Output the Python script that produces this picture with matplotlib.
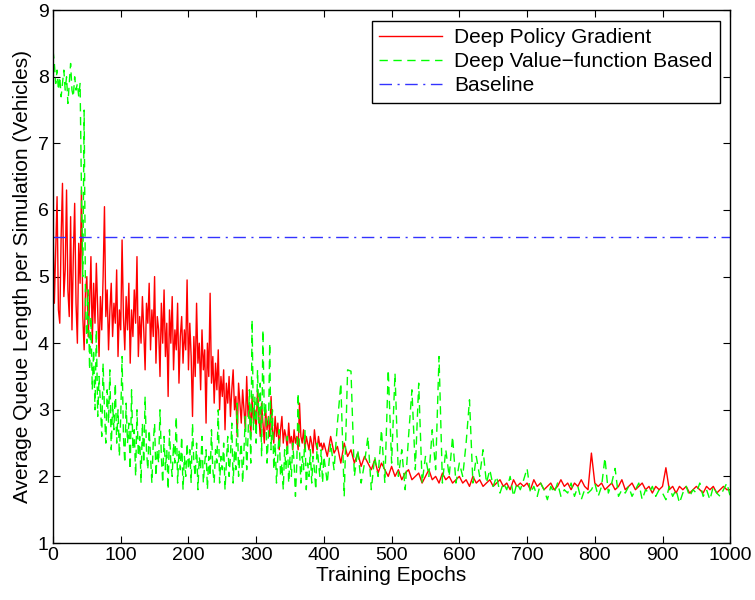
import numpy as np
import matplotlib
matplotlib.use('Agg')
import matplotlib.pyplot as plt

plt.rcParams['font.family'] = ['Liberation Sans', 'DejaVu Sans']

# epochs: every 2 up to 400 (noisy part), then every 5
epochs = np.concatenate([np.arange(0, 401, 2), np.arange(405, 1001, 5)])

policy_gradient = [
    # 0-398, step 2
    5.8, 4.6, 5.4, 6.2, 4.5, 4.3, 5.6, 6.4, 4.7, 5.1,
    6.3, 4.8, 4.4, 5.9, 4.2, 5.3, 6.1, 4.6, 4.0, 5.5,
    4.9, 6.3, 4.4, 3.9, 4.8, 5.0, 4.1, 4.6, 5.3, 4.0,
    4.9, 4.3, 5.2, 4.5, 3.8, 4.7, 4.2, 5.0, 6.05, 4.4,
    4.8, 3.9, 4.5, 4.9, 4.1, 4.6, 4.3, 5.1, 3.8, 4.5,
    4.2, 5.55, 4.4, 3.9, 4.7, 4.2, 4.9, 3.7, 4.5, 4.1,
    4.8, 4.3, 5.3, 3.8, 4.4, 4.0, 4.7, 4.2, 3.6, 4.6,
    4.3, 4.9, 3.9, 4.5, 4.1, 5.0, 3.7, 4.4, 4.2, 3.5,
    4.6, 4.0, 4.8, 3.8, 4.3, 3.2, 4.5, 4.0, 4.7, 3.6,
    4.2, 3.9, 4.6, 3.4, 4.1, 4.4, 3.7, 4.2, 3.9, 4.95,
    3.6, 4.3, 3.8, 2.9, 4.1, 3.5, 4.6, 3.7, 4.0, 3.3,
    4.2, 3.6, 3.9, 2.8, 4.0, 3.5, 4.75, 3.4, 3.8, 3.1,
    3.7, 3.3, 3.9, 3.0, 3.5, 3.2, 3.6, 2.7, 3.4, 3.1,
    3.5, 2.9, 3.3, 3.6, 3.0, 3.2, 2.6, 3.4, 3.1, 2.8,
    3.3, 3.0, 2.7, 3.5, 2.9, 3.1, 2.6, 3.2, 2.8, 3.0,
    2.7, 3.3, 2.9, 2.6, 3.1, 2.8, 2.5, 3.0, 2.7, 2.9,
    2.6, 3.2, 2.7, 2.5, 2.9, 2.6, 2.8, 2.4, 2.7, 2.9,
    2.5, 2.7, 2.6, 2.4, 2.8, 2.5, 2.6, 2.4, 2.7, 2.5,
    2.6, 2.4, 3.1, 2.6, 2.5, 2.7, 2.4, 2.6, 2.5, 2.4,
    2.6, 2.5, 2.35, 2.7, 2.5, 2.4, 2.6, 2.45, 2.5, 2.4,
    2.5,
    # 405-1000, step 5
    2.3, 2.6, 2.35, 2.45, 2.2, 2.5, 2.3, 2.4, 2.2,
    2.35, 2.15, 2.3, 2.2, 2.1, 2.25, 2.05, 2.2, 2.1, 2.0,
    2.15, 2.0, 2.1, 1.95, 2.05, 2.1, 1.95, 2.0, 2.05, 1.9,
    2.0, 2.1, 1.95, 2.0, 1.9, 2.05, 1.95, 2.0, 1.9, 1.95,
    2.0, 1.9, 1.95, 1.85, 2.0, 1.9, 1.95, 1.85, 1.9, 1.95,
    1.85, 1.9, 1.95, 1.85, 1.9, 1.8, 1.95, 1.85, 1.9, 1.85,
    1.9, 1.8, 1.95, 1.85, 1.9, 1.8, 1.85, 1.9, 1.8, 1.85,
    1.95, 1.85, 1.9, 1.8, 1.9, 1.85, 1.95, 1.85, 1.8, 2.35,
    1.9, 1.85, 1.9, 1.8, 1.85, 1.9, 1.8, 1.85, 1.95, 1.8,
    1.85, 1.9, 1.8, 1.85, 1.9, 1.8, 1.85, 1.75, 1.85, 1.8,
    1.85, 2.13, 1.8, 1.85, 1.75, 1.85, 1.8, 1.85, 1.75, 1.8,
    1.85, 1.8, 1.75, 1.85, 1.8, 1.85, 1.75, 1.8, 1.85, 1.8,
    1.8,
]

value_based = [
    # 0-398, step 2
    8.4, 8.2, 7.9, 8.1, 7.8, 8.0, 7.7, 7.9, 8.1, 7.8,
    8.0, 7.6, 7.9, 8.2, 7.8, 7.7, 8.0, 7.8, 7.9, 7.7,
    7.9, 6.3, 5.0, 7.5, 4.6, 4.0, 4.8, 3.6, 4.4, 3.3,
    3.9, 3.0, 4.2, 2.9, 3.5, 3.1, 2.6, 3.7, 3.0, 2.5,
    3.3, 2.8, 3.6, 2.4, 3.1, 2.7, 3.4, 2.5, 3.0, 2.3,
    2.9, 3.8, 2.6, 2.2, 3.1, 2.5, 2.8, 2.1, 3.3, 2.4,
    2.7, 2.0, 3.0, 2.3, 2.6, 1.9, 2.8, 2.2, 3.2, 2.4,
    2.1, 2.7, 2.3, 1.9, 2.5, 2.8, 2.0, 2.4, 2.2, 3.0,
    2.3, 1.9, 2.6, 2.1, 2.4, 1.8, 2.7, 2.2, 2.0, 2.5,
    2.2, 2.9, 1.9, 2.4, 2.1, 2.6, 1.8, 2.3, 2.0, 2.5,
    2.1, 2.4, 1.9, 2.8, 2.2, 2.0, 2.5, 1.8, 2.3, 2.1,
    2.6, 1.9, 2.2, 2.4, 1.8, 2.3, 2.0, 2.7, 2.1, 1.9,
    2.4, 2.2, 3.0, 1.9, 2.3, 2.1, 2.5, 1.8, 2.2, 2.6,
    2.0, 2.3, 2.8, 1.9, 2.4, 2.1, 3.1, 2.0, 2.3, 2.5,
    1.9, 2.4, 2.9, 2.1, 2.6, 3.3, 2.2, 4.35, 2.7, 3.2,
    2.5, 3.6, 2.8, 3.4, 2.3, 4.2, 2.9, 3.1, 2.2, 2.6,
    4.0, 2.4, 3.0, 2.1, 2.5, 1.9, 2.3, 2.7, 2.0, 2.2,
    1.8, 2.4, 2.1, 2.6, 1.9, 2.3, 2.0, 2.5, 2.2, 1.7,
    2.2, 3.25, 2.4, 1.9, 2.3, 2.1, 2.7, 1.8, 2.2, 2.0,
    2.4, 1.9, 2.3, 2.1, 1.8, 2.5, 2.2, 2.0, 2.4, 1.9,
    2.3,
    # 405-1000, step 5
    1.9, 2.5, 2.1, 2.8, 3.4, 1.7, 3.6, 3.58, 2.0,
    2.4, 1.9, 2.2, 2.6, 1.8, 2.3, 2.0, 2.7, 1.9, 3.6,
    2.2, 3.55, 2.0, 2.4, 1.8, 2.6, 3.3, 2.1, 3.4, 1.9,
    2.3, 2.0, 2.7, 2.1, 3.8, 1.9, 2.4, 2.0, 2.6, 1.9,
    2.2, 2.0, 2.5, 3.15, 1.9, 2.3, 2.0, 2.4, 1.9, 2.1,
    1.85, 2.0, 1.75, 1.9, 1.8, 2.0, 1.7, 1.9, 1.8, 1.95,
    2.12, 1.75, 1.85, 1.7, 1.9, 1.8, 1.65, 1.85, 1.75, 1.9,
    1.7, 1.8, 1.75, 1.9, 1.7, 1.85, 1.65, 1.8, 1.75, 1.8,
    1.9, 1.7, 1.85, 2.28, 1.75, 1.9, 2.12, 1.7, 1.8, 1.75,
    1.85, 1.7, 1.8, 1.9, 1.65, 1.8, 1.75, 1.85, 1.7, 1.8,
    1.75, 1.65, 1.85, 1.7, 1.8, 1.6, 1.75, 1.85, 1.7, 1.8,
    1.75, 1.9, 1.7, 1.8, 1.65, 1.85, 1.75, 1.7, 1.8, 1.9,
    1.7,
]

baseline = 5.6

fig = plt.figure(figsize=(7.55, 6.0), dpi=100)
ax = fig.add_axes([0.0702, 0.095, 0.897, 0.888])

ax.plot(epochs, policy_gradient, color='#ff0000', lw=1.0, label='Deep Policy Gradient')
ax.plot(epochs, value_based, color='#00ff00', lw=1.0, dashes=(6, 4), label='Deep Value\u2212function Based')
ax.plot([0, 1000], [baseline, baseline], color='#3333ff', lw=1.0, dashes=(9, 4, 1.5, 4), label='Baseline')

ax.set_xlim(0, 1000)
ax.set_ylim(1, 9)
ax.set_xticks(np.arange(0, 1001, 100))
ax.set_yticks(np.arange(1, 10, 1))
ax.tick_params(direction='in', top=True, right=True, labelsize=14, length=5, pad=3)
for s in ax.spines.values():
    s.set_linewidth(1.0)

ax.set_xlabel('Training Epochs', fontsize=15, labelpad=1)
ax.set_ylabel('Average Queue Length per Simulation (Vehicles)', fontsize=15, labelpad=4)

leg = ax.legend(loc='upper right', fontsize=15, fancybox=False, framealpha=1,
                edgecolor='black', handlelength=3.0, borderaxespad=0.5, labelspacing=0.25,
                borderpad=0.35, handletextpad=0.6)
leg.get_frame().set_linewidth(1.0)

fig.savefig('out.png', dpi=100)
